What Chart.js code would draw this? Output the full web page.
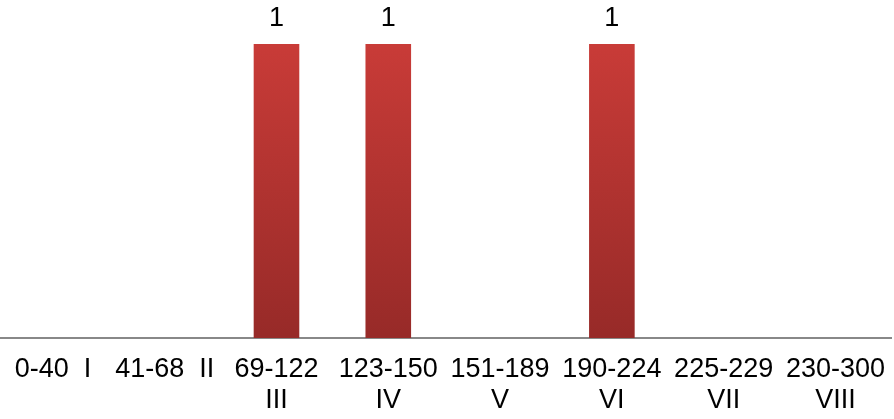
<!DOCTYPE html>
<html>
<head>
<meta charset="utf-8">
<script src="https://cdn.jsdelivr.net/npm/chart.js@4"></script>
<style>
  html, body { margin: 0; padding: 0; background: #fff; overflow: hidden; }
  #mychart { display: block; margin-left: -3px; }
</style>
</head>
<body>
<canvas id="mychart" width="904" height="419"></canvas>
<script>
const rangeLabels = ["0-40", "41-68", "69-122", "123-150", "151-189", "190-224", "225-229", "230-300"];
const romanLabels = ["I", "II", "III", "IV", "V", "VI", "VII", "VIII"];
const counts = [0, 0, 1, 1, 0, 1, 0, 0];

// first two fit on one line, the rest wrap
const labels = rangeLabels.map((r, i) => i < 2 ? r + "  " + romanLabels[i] : [r, romanLabels[i]]);

const font = "'Liberation Sans', Arial, sans-serif";

const valueLabels = {
  id: "valueLabels",
  afterDatasetsDraw(chart) {
    const ctx = chart.ctx;
    const meta = chart.getDatasetMeta(0);
    ctx.save();
    ctx.font = "27px " + font;
    ctx.fillStyle = "#000";
    ctx.textAlign = "center";
    ctx.textBaseline = "bottom";
    meta.data.forEach((bar, i) => {
      if (counts[i] > 0) ctx.fillText(counts[i], bar.x, bar.y - 12);
    });
    ctx.restore();
  },
};

new Chart(document.getElementById("mychart").getContext("2d"), {
  type: "bar",
  data: {
    labels: labels,
    datasets: [
      {
        data: counts,
        backgroundColor: (c) => {
          const area = c.chart.chartArea;
          if (!area) return "#c33734";
          const g = c.chart.ctx.createLinearGradient(0, area.top, 0, area.bottom);
          g.addColorStop(0, "#d03e3a");
          g.addColorStop(1, "#972a28");
          return g;
        },
        borderWidth: 0,
        barPercentage: 0.408,
        categoryPercentage: 1,
      },
    ],
  },
  plugins: [valueLabels],
  options: {
    responsive: false,
    animation: false,
    layout: { padding: 0 },
    plugins: {
      legend: { display: false },
      tooltip: { enabled: false },
    },
    scales: {
      x: {
        grid: { display: false, drawTicks: false },
        border: { display: true, color: "#888", width: 2 },
        ticks: {
          color: "#000",
          font: { family: font, size: 27, lineHeight: 1.15 },
          padding: 16,
          maxRotation: 0,
          autoSkip: false,
        },
        afterFit(scale) { scale.height = 81; },
      },
      y: {
        display: false,
        min: 0,
        max: 1.15,
      },
    },
  },
});
</script>
</body>
</html>
